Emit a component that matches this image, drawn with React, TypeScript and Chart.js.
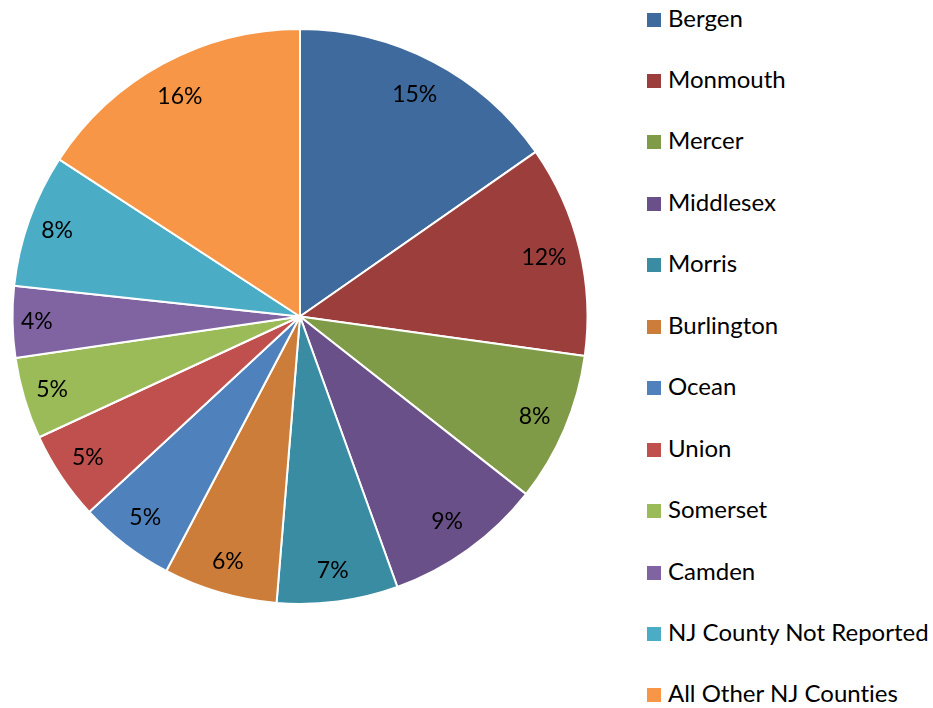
import React, { useEffect, useRef } from "react";
import { Chart, registerables } from "chart.js";

Chart.register(...registerables);

const counties = [
  "Bergen",
  "Monmouth",
  "Mercer",
  "Middlesex",
  "Morris",
  "Burlington",
  "Ocean",
  "Union",
  "Somerset",
  "Camden",
  "NJ County Not Reported",
  "All Other NJ Counties",
];
const shares = [15.3, 11.9, 8.4, 8.9, 6.8, 6.4, 5.4, 5.0, 4.6, 4.0, 7.5, 15.8];
const colors = [
  "#3F6A9E",
  "#9C3F3C",
  "#7F9B48",
  "#6A5088",
  "#3A8CA3",
  "#CD7D3A",
  "#4F81BD",
  "#C0504D",
  "#9BBB59",
  "#8064A2",
  "#4BACC6",
  "#F79646",
];

const FONT = "Lato, 'Open Sans', sans-serif";
const PCT_SIZE = 23;
const LEGEND_SIZE = 24;

const pctLabels = {
  id: "pctLabels",
  afterDatasetsDraw(chart: any) {
    const ctx = chart.ctx;
    const meta = chart.getDatasetMeta(0);
    const data = chart.data.datasets[0].data as number[];
    const total = data.reduce((a, b) => a + b, 0);
    ctx.save();
    ctx.font = `${PCT_SIZE}px ${FONT}`;
    ctx.fillStyle = "#000";
    ctx.textAlign = "center";
    ctx.textBaseline = "middle";
    meta.data.forEach((arc: any, i: number) => {
      const { x, y, startAngle, endAngle, outerRadius } = arc.getProps(
        ["x", "y", "startAngle", "endAngle", "outerRadius"],
        true
      );
      const text = Math.round((data[i] / total) * 100) + "%";
      const w = ctx.measureText(text).width;
      const mid = (startAngle + endAngle) / 2;
      const ux = Math.cos(mid);
      const uy = Math.sin(mid);
      const ext = Math.abs(ux) * (w / 2) + Math.abs(uy) * 20;
      const r = outerRadius - 9 - ext;
      ctx.fillText(text, x + ux * r - 1, y + uy * r);
    });
    ctx.restore();
  },
};

export default function App() {
  const canvasRef = useRef<HTMLCanvasElement | null>(null);

  useEffect(() => {
    if (!canvasRef.current) return;
    const chart = new Chart(canvasRef.current, {
      type: "pie",
      data: {
        labels: counties,
        datasets: [
          {
            data: shares,
            backgroundColor: colors,
            borderColor: "#ffffff",
            borderWidth: 2,
            radius: 287.5,
          } as any,
        ],
      },
      options: {
        responsive: false,
        animation: false,
        layout: { padding: 0 },
        plugins: {
          legend: { display: false },
          tooltip: { enabled: false },
        },
      },
      plugins: [pctLabels],
    });
    return () => chart.destroy();
  }, []);

  return (
    <div
      style={{
        position: "absolute",
        left: 0,
        top: 0,
        width: 933,
        height: 708,
        overflow: "hidden",
        background: "#fff",
      }}
    >
      <canvas
        ref={canvasRef}
        width={600}
        height={633}
        style={{ position: "absolute", left: 0, top: 0 }}
      />
      {counties.map((name, i) => {
        const cy = 19.5 + i * 61.45;
        return (
          <div
            key={name}
            style={{
              position: "absolute",
              left: 647,
              top: cy - 15,
              height: 30,
              display: "flex",
              alignItems: "center",
              whiteSpace: "nowrap",
              fontFamily: FONT,
              fontSize: LEGEND_SIZE,
              fontVariantLigatures: "none",
              color: "#000",
            }}
          >
            <span
              style={{
                display: "inline-block",
                width: 14,
                height: 14,
                background: colors[i],
                marginRight: 7,
              }}
            />
            <span style={{ lineHeight: "30px", position: "relative", top: -2 }}>{name}</span>
          </div>
        );
      })}
    </div>
  );
}
